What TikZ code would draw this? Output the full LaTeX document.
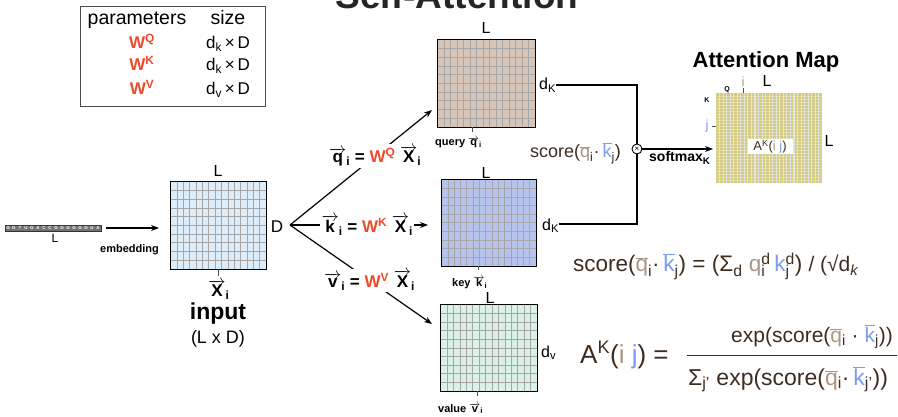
\documentclass[tikz,border=0pt]{standalone}
\usepackage{fontspec}
\setmainfont{Liberation Sans}
\usetikzlibrary{arrows.meta,calc}
\definecolor{wred}{HTML}{F04A2C}
\definecolor{txtb}{HTML}{3E2C20}
\definecolor{qc}{HTML}{AD9684}
\definecolor{kc}{HTML}{7C9CF3}
\definecolor{inpfill}{HTML}{DDEEFA}
\definecolor{qfill}{HTML}{D7C5B8}
\definecolor{kfill}{HTML}{B6C3EC}
\definecolor{vfill}{HTML}{DAF2E6}
\definecolor{gline}{HTML}{A6A6A6}
\definecolor{amfill}{HTML}{D3CB7E}
\newcommand\fs[1]{\fontsize{#1}{#1}\selectfont}
\newcommand\va[1]{$\overrightarrow{\hbox{#1}}$}
\newcommand\ob[1]{$\overline{\hbox{#1}}$}
\newcommand\sbsp[2]{\setbox0\hbox{\textsuperscript{#2}}\setbox2\hbox{\textsubscript{#1}}%
  \ifdim\wd0>\wd2 \rlap{\box2}\box0\else\rlap{\box0}\box2\fi}
\newcommand\cellgrid[3]{%
  \foreach \k in {1,...,#2}{\pgfmathsetmacro\fr{\k/(#2+1)}
    \draw[gridln] ($(#1.north west)!\fr!(#1.north east)$) -- ($(#1.south west)!\fr!(#1.south east)$);}
  \foreach \k in {1,...,#3}{\pgfmathsetmacro\fr{\k/(#3+1)}
    \draw[gridln] ($(#1.north west)!\fr!(#1.south west)$) -- ($(#1.north east)!\fr!(#1.south east)$);}
  \draw[line width=1pt] (#1.north west) rectangle (#1.south east);
}
\begin{document}
\begin{tikzpicture}[x=1pt,y=-1pt,
  every node/.style={inner sep=0pt},
  lbl/.style={font=\fs{16}},
  gridln/.style={draw=gline, line width=1pt},
  conn/.style={line width=1.2pt},
  arr/.style={line width=1.2pt, -{Stealth[length=8pt,width=6pt]}},
  lblw/.style={fill=white, inner sep=1.5pt, font=\bfseries\fs{17}},
  smallb/.style={font=\bfseries\fs{11}},
  tick/.style={line width=0.9pt, draw=black!70}]
\useasboundingbox (0,0) rectangle (898,417);
\fill[white] (0,0) rectangle (898,417);

% title
\node[font=\bfseries\fs{37}, text=black!85, anchor=base] (title) at (457,9) {Self-Attention};

% parameter table
\node[draw=black!70, line width=1pt, minimum width=185pt, minimum height=100pt, anchor=north west] (tbl) at (80,6) {};
\node[font=\fs{19.5}, anchor=base] (hp) at (137,25) {parameters};
\node[font=\fs{19.5}, anchor=base] (hs) at (228,25) {size};
\node[font=\bfseries\fs{17}, text=wred, anchor=base] (wq) at (142,49) {W\textsuperscript{Q}};
\node[font=\bfseries\fs{17}, text=wred, anchor=base] (wk) at (142,71) {W\textsuperscript{K}};
\node[font=\bfseries\fs{17}, text=wred, anchor=base] (wv) at (142,95) {W\textsuperscript{V}};
\node[font=\fs{17}, anchor=base] (sq) at (228,49) {d\textsubscript{k}\,×\,D};
\node[font=\fs{17}, anchor=base] (sk) at (228,71) {d\textsubscript{k}\,×\,D};
\node[font=\fs{17}, anchor=base] (sv) at (228,95) {d\textsubscript{v}\,×\,D};

% sequence
\node[draw=black!80, fill=black!55, line width=0.8pt, minimum width=96pt, minimum height=6pt] (seq) at (53,228) {};
\foreach \c [count=\n] in {G,G,T,U,G,A,C,C,G,G,G,G,G,G,U,A}
  \node[font=\bfseries\fs{4.5}, text=white] (s\n) at (5+6*\n-3,228) {\c};
\node[font=\fs{12}, anchor=base] (seqL) at (55,243) {L};
\draw[arr, shorten <=5pt, shorten >=12pt] (seq.east) -- (seq.east -| 171,228) coordinate (embend);
\node[smallb, anchor=base] (emb) at (129.5,253) {embedding};

% input grid
\node[fill=inpfill, minimum width=95pt, minimum height=87pt] (inp) at (218.5,225.5) {};
\cellgrid{inp}{14}{9}
\node[lbl, anchor=base] (inpL) at (218,177) {L};
\node[font=\fs{17}, anchor=base] (Dlab) at (277,233) {D};
\draw[tick] (inp.south) -- ++(0,7);
\node[font=\bfseries\fs{17}, anchor=base] (xi) at (219,297) {\va{X}\textsubscript{i}};
\node[font=\bfseries\fs{23}, anchor=base] (inpt) at (218,319) {input};
\node[font=\fs{18}, anchor=base] (ldim) at (218,343) {(L x D)};

% query / key / value grids
\node[fill=qfill, minimum width=97pt, minimum height=87pt] (qg) at (486.5,83.5) {};
\cellgrid{qg}{14}{9}
\node[fill=kfill, minimum width=94pt, minimum height=86pt] (kg) at (489,223) {};
\cellgrid{kg}{14}{9}
\node[fill=vfill, minimum width=96pt, minimum height=86pt] (vg) at (489,348) {};
\cellgrid{vg}{14}{9}

\node[lbl, anchor=base] (qL) at (486,34) {L};
\node[lbl, anchor=base] (kL) at (486,179) {L};
\node[lbl, anchor=base] (vL) at (490,303) {L};
\node[font=\fs{16}, anchor=base west] (dkq) at (539,90) {d\textsubscript{K}};
\node[font=\fs{16}, anchor=base west] (dkk) at (542,230) {d\textsubscript{K}};
\node[font=\fs{16}, anchor=base west] (dvv) at (541,357) {d\textsubscript{v}};
\draw[tick] ($(qg.south west)!0.36!(qg.south east)$) -- ++(0,5);
\draw[tick] ($(kg.south west)!0.39!(kg.south east)$) -- ++(0,4);
\draw[tick] ($(vg.south west)!0.375!(vg.south east)$) -- ++(0,5);
\node[smallb, anchor=base west] (qlab) at (435,146) {query \va{q}\textsubscript{i}};
\node[smallb, anchor=base west] (klab) at (452,287) {key \va{k}\textsubscript{i}};
\node[smallb, anchor=base west] (vlab) at (438,412) {value \va{v}\textsubscript{i}};

% fork
\coordinate (fork) at (290,225);
\coordinate (qend) at (432,110);
\coordinate (kend) at (428,225);
\coordinate (vend) at (432,324);
\draw[arr] (fork) -- node[lblw, pos=0.6] {\va{q}\textsubscript{i} = \textcolor{wred}{W\textsuperscript{Q}} \va{X}\textsubscript{i}} (qend);
\draw[arr] (fork) -- node[lblw, pos=0.56] {\va{k}\textsubscript{i} = \textcolor{wred}{W\textsuperscript{K}} \va{X}\textsubscript{i}} (kend);
\draw[arr] (fork) -- node[lblw, pos=0.56] {\va{v}\textsubscript{i} = \textcolor{wred}{W\textsuperscript{V}} \va{X}\textsubscript{i}} (vend);

% otimes and score
\node[circle, draw, line width=0.9pt, minimum size=10pt, fill=white] (ot) at (637,149) {};
\node[font=\fs{8}] (otx) at (ot.center) {×};
\draw[conn] (dkq.east |- 0,85) -| (ot.north);
\draw[conn] (dkk.east |- 0,224) -| (ot.south);
\node[font=\fs{18}, text=txtb, anchor=base west] (scl) at (530,158)
  {score(\textcolor{qc}{\ob{q}}\textsubscript{i}·\,\textcolor{kc}{\ob{k}}\textsubscript{j})};

% attention map
\node[fill=amfill, minimum width=106pt, minimum height=90pt, anchor=north west] (am) at (716,93) {};
\foreach \k in {1,...,29}{\pgfmathsetmacro\fr{\k/30}
  \draw[line width=1.1pt, draw=white!75!gray] ($(am.north west)!\fr!(am.north east)$) -- ($(am.south west)!\fr!(am.south east)$);}
\foreach \k in {1,...,29}{\pgfmathsetmacro\fr{\k/30}
  \draw[line width=0.7pt, draw=white, opacity=0.3] ($(am.north west)!\fr!(am.south west)$) -- ($(am.north east)!\fr!(am.south east)$);}
\draw[arr, shorten >=3pt] (ot.east) -- (ot.east -| am.west);
\node[font=\bfseries\fs{14}, anchor=base west] (smx) at (649,162) {softmax\textsubscript{K}};
\node[font=\bfseries\fs{22}, anchor=base] (amt) at (766,68) {Attention Map};
\node[font=\bfseries\fs{7}] (Qm) at (727,89.5) {Q};
\node[font=\bfseries\fs{7}] (Km) at (707,100.5) {K};
\node[font=\fs{13}, text=qc, anchor=base] (im) at (743,87) {i};
\draw[tick] (743,88) -- (743,93);
\node[font=\fs{16}, anchor=base] (Lm) at (767,87) {L};
\node[font=\fs{13}, text=kc] (jm) at (707,126) {j};
\draw[tick] (712,126) -- (716,126);
\node[font=\fs{16}] (Lr) at (829,141) {L};
\node[fill=white, minimum width=45pt, minimum height=15pt, font=\fs{13}, text=txtb] (aij) at (770,147)
  {A\textsuperscript{K}(\textcolor{qc}{i} \textcolor{kc}{j})};

% formulas
\node[font=\fs{22.5}, text=txtb, anchor=base west] (f1) at (573,272)
  {score(\textcolor{qc}{\ob{q}}\textsubscript{i}·\,\textcolor{kc}{\ob{k}}\textsubscript{j}) = (Σ\textsubscript{d}\ \textcolor{qc}{q}\sbsp{i}{d}\,\textcolor{kc}{k}\sbsp{j}{d}) {\fs{21}/ (√d\textsubscript{\itshape k}}};
\node[font=\fs{26}, text=txtb, anchor=base west] (f2) at (580,363)
  {A\textsuperscript{K}(\textcolor{qc}{i} \textcolor{kc}{j}) =};
\node[font=\fs{21}, text=txtb, anchor=base east] (num) at (893,342)
  {exp(score(\textcolor{qc}{\ob{q}}\textsubscript{i} · \textcolor{kc}{\ob{k}}\textsubscript{j}))};
\draw[line width=1pt, draw=txtb] (687,355) -- (897,355);
\node[font=\fs{23}, text=txtb, anchor=base west] (den) at (688,385)
  {Σ\textsubscript{j’} exp(score(\textcolor{qc}{\ob{q}}\textsubscript{i}·\,\textcolor{kc}{\ob{k}}\textsubscript{j’}))};
\end{tikzpicture}
\end{document}
